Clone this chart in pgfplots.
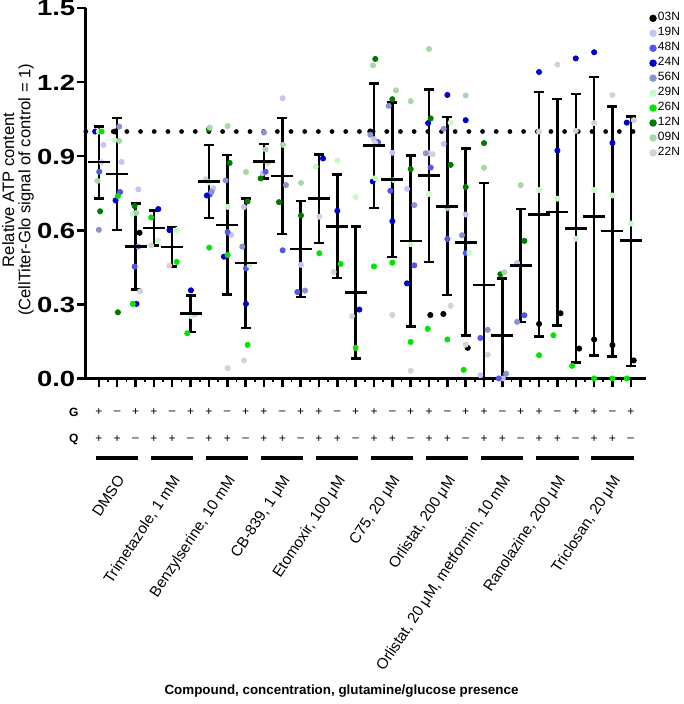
\documentclass[border=0pt]{standalone}
\usepackage{pgfplots}
\usepackage{pgfplotstable}
\usepackage{graphicx}
\pgfplotsset{compat=1.18}
\usepackage{fontspec}
\setmainfont{Liberation Sans}

\definecolor{c03}{RGB}{0,0,0}
\definecolor{c19}{RGB}{196,196,250}
\definecolor{c48}{RGB}{85,85,238}
\definecolor{c24}{RGB}{0,0,204}
\definecolor{c56}{RGB}{138,147,208}
\definecolor{c29}{RGB}{200,250,200}
\definecolor{c26}{RGB}{0,230,0}
\definecolor{c12}{RGB}{0,122,0}
\definecolor{c09}{RGB}{168,216,168}
\definecolor{c22}{RGB}{211,211,211}

% mean, SD up, SD down for each condition
\pgfplotstableread{
x  y     ep    em
0  0.876 0.144 0.148
1  0.827 0.227 0.225
2  0.534 0.174 0.174
3  0.609 0.072 0.071
4  0.532 0.081 0.078
5  0.263 0.073 0.074
6  0.797 0.148 0.147
7  0.621 0.283 0.280
8  0.468 0.261 0.263
9  0.879 0.071 0.070
10 0.819 0.235 0.234
11 0.524 0.194 0.195
12 0.728 0.179 0.179
13 0.616 0.210 0.210
14 0.348 0.268 0.267
15 0.943 0.252 0.252
16 0.805 0.312 0.313
17 0.557 0.346 0.347
18 0.822 0.349 0.350
19 0.697 0.361 0.360
20 0.551 0.380 0.377
21 0.379 0.412 0.379
22 0.174 0.230 0.174
23 0.458 0.228 0.229
24 0.663 0.497 0.493
25 0.674 0.457 0.460
26 0.608 0.543 0.543
27 0.656 0.564 0.564
28 0.597 0.504 0.508
29 0.558 0.503 0.507
}\meantab

\pgfplotsset{
  pts/.style={only marks, mark=*, mark size=1.3pt, color=#1},
}

\begin{document}
\begin{tikzpicture}
\begin{axis}[
  x=9.185pt, y=123.65pt,
  xmin=-0.71, xmax=29.83, ymin=0, ymax=1.5,
  clip=false,
  axis x line*=bottom, axis y line*=left,
  axis line style={line width=1.5pt, -},
  xtick={0,...,29}, xticklabels={},
  minor x tick num=1,
  ytick={0,0.3,0.6,0.9,1.2,1.5},
  tick align=outside,
  major tick length=4.5pt, minor tick length=2pt,
  major tick style={line width=1.25pt, black},
  minor tick style={line width=0.8pt, black},
  yticklabel={\scalebox{1.25}[1]{\pgfmathprintnumber[fixed,fixed zerofill,precision=1,assume math mode=true]{\tick}}},
  yticklabel style={font=\bfseries\fontsize{11}{11}\selectfont, inner sep=0pt,
    xshift=-0.6pt, text height=7.9pt, text depth=0pt},
  legend style={at={(axis cs:29.99,1.488)}, anchor=north west, draw=none, fill=none,
    font=\fontsize{6}{7}\selectfont, row sep=0.6pt, inner sep=0pt,
    nodes={inner sep=0.6pt}},
  legend cell align=left,
  legend image code/.code={\fill[#1] (1.6pt,0pt) circle (1.65pt);},
]
% dotted reference line at 1
\addplot[forget plot, line width=2.4pt, line cap=round, dash pattern=on 0pt off 6.85pt]
  coordinates {(-0.71,1) (29.83,1)};

\addplot[pts=c03] coordinates {(0.89,1.0) (2.22,0.590) (14.8,1.0) (18.07,0.257) (18.78,0.261) (20.11,0.124) (24,0.221) (25.17,0.264) (26.18,0.121) (27,0.158) (28,0.135) (29.16,0.073)};
\addlegendentry{03N}
\addplot[pts=c19] coordinates {(0.25,0.946) (1.24,0.877) (2.15,0.766) (6.24,0.770) (7.22,0.581) (7.91,0.694) (8.93,0.832) (10.02,1.135) (11.02,0.460) (15,0.969) (16,0.914) (16.8,0.768) (18,0.912) (18.8,0.950) (20,0.664) (20.8,0.013) (22.02,0.0) (22.8,0.468)};
\addlegendentry{19N}
\addplot[pts=c48] coordinates {(0.02,0.837) (1.16,0.755) (1.95,0.453) (6.05,0.745) (7.02,0.593) (8.02,0.446) (9.09,0.837) (10.02,0.519) (10.82,0.350) (15.22,0.957) (15.89,0.760) (17.2,0.458) (18.09,0.854) (19,0.565) (20,0.508) (20.8,0.164) (21.8,0.0) (23.2,0.256)};
\addlegendentry{48N}
\addplot[pts=c24] coordinates {(-0.2,1.0) (0.91,0.721) (2.05,0.302) (3.24,0.686) (3.85,0.601) (5.02,0.357) (5.89,0.741) (6.82,0.493) (8.02,0.302) (12.22,0.891) (13,0.679) (14.2,0.279) (14.93,0.798) (16,0.637) (16.8,0.385) (17.95,1.034) (19,1.148) (20,1.046) (24,1.241) (25,0.923) (26,1.296) (27,1.321) (28,0.954) (28.78,1.036)};
\addlegendentry{24N}
\addplot[pts=c56] coordinates {(0,0.602) (1.11,1.02) (2.15,0.534) (6.15,0.756) (6.91,0.802) (7.82,0.534) (9,0.996) (10.2,0.783) (11.24,0.356) (14.8,0.987) (15.8,1.104) (17.2,0.702) (17.82,0.912) (18.8,1.011) (19.8,0.580) (21.2,0.197) (22.2,0.019) (22.8,0.229)};
\addlegendentry{56N}
\addplot[pts=c29] coordinates {(0,1.0) (0.84,0.966) (1.84,0.666) (3.22,0.559) (4.25,0.601) (5.04,0.252) (6,0.794) (7.02,0.695) (8.22,0.458) (11.82,0.858) (13,0.883) (14,0.735) (15.07,0.811) (16.09,0.803) (17,0.544) (18,0.747) (19.18,1.036) (20.2,0.508) (24,0.763) (25,0.728) (26,0.566) (27,0.763) (28,0.741) (29,0.627)};
\addlegendentry{29N}
\addplot[pts=c26] coordinates {(0.15,1.0) (1.04,0.739) (1.85,0.302) (2.85,0.652) (4.25,0.472) (4.82,0.183) (6.02,0.530) (7.02,0.500) (8.11,0.136) (12.02,0.507) (13.18,0.464) (14,0.124) (15,0.454) (16,0.469) (17,0.148) (17.93,0.201) (19,0.158) (19.89,0.035) (24,0.094) (24.78,0.175) (25.8,0.051) (27,0.0) (28,0.0) (28.78,0.0)};
\addlegendentry{26N}
\addplot[pts=c12] coordinates {(0.07,0.677) (1.04,0.268) (1.95,0.698) (6,1.009) (7.13,0.873) (8.11,0.717) (8.82,0.81) (9.82,0.714) (11.02,0.660) (15.07,1.294) (16,1.131) (17,0.848) (18.09,1.053) (19.18,0.865) (20,0.775) (21,0.953) (21.89,0.422) (23.2,0.557)};
\addlegendentry{12N}
\addplot[pts=c09] coordinates {(-0.07,0.80) (1.11,0.962) (2.05,0.671) (6.05,1.016) (7.02,1.022) (8.02,0.836) (9.09,0.927) (10.04,0.946) (11.02,0.792) (14.95,1.268) (16.2,1.167) (17,1.123) (18,1.334) (19,0.690) (20,1.146) (21,0.853) (22.11,0.430) (23,0.783)};
\addlegendentry{09N}
\addplot[pts=c22] coordinates {(0.13,0.876) (2.25,0.353) (2.85,0.539) (3.84,0.457) (5.24,0.259) (5.82,0.807) (7.02,0.042) (7.91,0.073) (9.22,0.872) (12.02,0.655) (12.8,0.431) (13.8,0.252) (15.07,0.953) (16,0.257) (17,0.031) (18.2,0.908) (19.18,0.294) (20,0.137) (21.2,0.096) (24,1.0) (25,1.271) (26,1.003) (27,1.034) (28,1.148) (29.16,1.046)};
\addlegendentry{22N}

% mean with SD
\addplot[forget plot, only marks, black, mark=-, mark size=5.5pt,
  mark options={line width=1.25pt},
  error bars/.cd, y dir=both, y explicit,
  error bar style={line width=1.25pt, black},
  error mark options={rotate=90, mark size=2.5pt, line width=1.25pt, black}]
  table[x=x, y=y, y error plus=ep, y error minus=em] {\meantab};

% G / Q rows and group bars
\node[font=\bfseries\fontsize{6}{7}\selectfont] at (axis cs:-1.36,-0.1375) {G};
\node[font=\bfseries\fontsize{6}{7}\selectfont] at (axis cs:-1.36,-0.2467) {Q};
\pgfplotsinvokeforeach{0,...,9}{
  \node[font=\fontsize{6}{7}\selectfont] at (axis cs:{3*#1},-0.1375) {+};
  \node[font=\fontsize{6}{7}\selectfont] at (axis cs:{3*#1+1},-0.1375) {–};
  \node[font=\fontsize{6}{7}\selectfont] at (axis cs:{3*#1+2},-0.1375) {+};
  \node[font=\fontsize{6}{7}\selectfont] at (axis cs:{3*#1},-0.2467) {+};
  \node[font=\fontsize{6}{7}\selectfont] at (axis cs:{3*#1+1},-0.2467) {+};
  \node[font=\fontsize{6}{7}\selectfont] at (axis cs:{3*#1+2},-0.2467) {–};
  \draw[line width=2pt] (axis cs:{3*#1-0.15},-0.3235) -- (axis cs:{3*#1+2.15},-0.3235);
}

% compound names
\begin{scope}[every node/.style={rotate=56.5, anchor=north east, inner sep=0pt,
    font=\fontsize{7.6}{8}\selectfont}]
\node at (axis cs:0.95,-0.385) {DMSO};
\node at (axis cs:3.95,-0.385) {Trimetazole, 1 mM};
\node at (axis cs:6.95,-0.385) {Benzylserine, 10 mM};
\node at (axis cs:9.95,-0.385) {CB-839, 1 μM};
\node at (axis cs:12.95,-0.385) {Etomoxir, 100 μM};
\node at (axis cs:15.95,-0.385) {C75, 20 μM};
\node at (axis cs:18.95,-0.385) {Orlistat, 200 μM};
\node at (axis cs:21.95,-0.385) {Orlistat, 20 μM, metformin, 10 mM};
\node at (axis cs:24.95,-0.385) {Ranolazine, 200 μM};
\node at (axis cs:27.95,-0.385) {Triclosan, 20 μM};
\end{scope}

% axis titles
\node[font=\bfseries\fontsize{6.7}{8}\selectfont] at (axis cs:13.23,-1.266)
  {Compound, concentration, glutamine/glucose presence};
\node[rotate=90, align=center, inner sep=0pt, font=\fontsize{8.3}{8.2}\selectfont]
  at (axis cs:-4.41,0.764)
  {Relative ATP content\\(CellTiter-Glo signal of control = 1)};

% frame of the picture
\path (axis cs:-5.389,-1.314) rectangle (axis cs:31.90,1.5326);
\end{axis}
\end{tikzpicture}
\end{document}
